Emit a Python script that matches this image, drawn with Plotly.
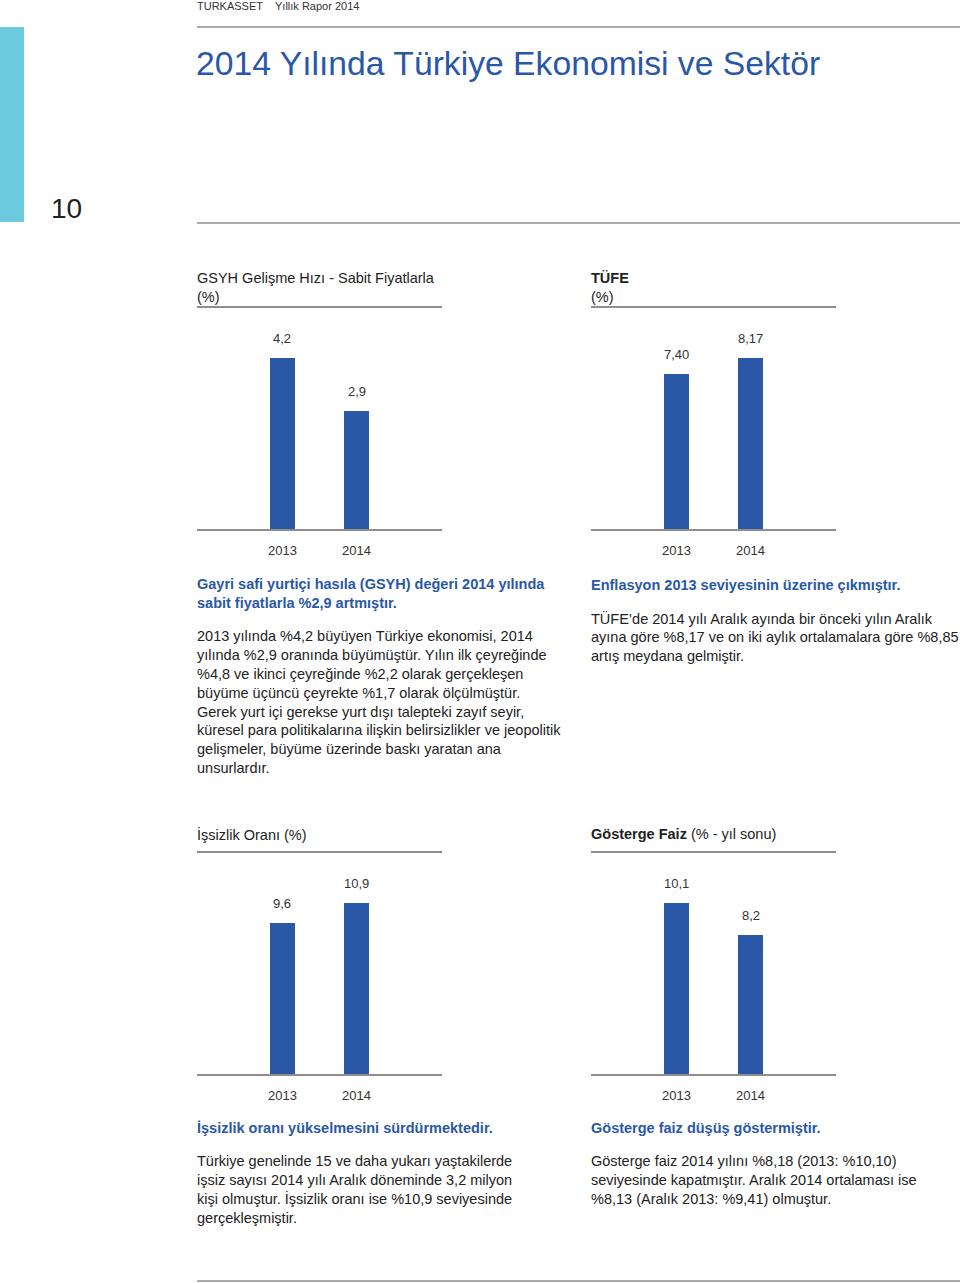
import plotly.graph_objects as go

# ---------------- data ----------------
years = ["2013", "2014"]
gsyh = [4.2, 2.9]
tufe = [7.40, 8.17]
issizlik = [9.6, 10.9]
faiz = [10.1, 8.2]
decimals = [1, 2, 1, 1]

W, H = 960, 1283
FONT = "Liberation Sans"
BLUE = "#2a58a6"
HEAD_BLUE = "#2a58a6"
GRAY = "#8e8e8e"
TXT = "#222222"


def px(x):
    return x / W


def py(y):
    return 1 - y / H


fig = go.Figure()

panels = [
    # (values, x0, x1, ytop, ybottom)
    (gsyh, 197, 442, 308, 529),
    (tufe, 591, 836, 308, 529),
    (issizlik, 197, 442, 853, 1074),
    (faiz, 591, 836, 853, 1074),
]

annotations = []
for i, (vals, x0, x1, yt, yb) in enumerate(panels):
    k = i + 1
    xa = "x" if k == 1 else f"x{k}"
    ya = "y" if k == 1 else f"y{k}"
    labels = [f"{v:.{decimals[i]}f}".replace(".", ",") for v in vals]
    fig.add_trace(go.Bar(x=years, y=vals, xaxis=xa, yaxis=ya,
                         marker=dict(color=BLUE, line=dict(width=0)),
                         width=0.34, showlegend=False, hoverinfo="skip"))
    for idx, (v, lab) in enumerate(zip(vals, labels)):
        annotations.append(dict(x=idx, y=v, xref=xa, yref=ya, text=lab,
                                showarrow=False, yanchor="bottom", yshift=10,
                                font=dict(family=FONT, size=13, color="#333333")))
    top = max(vals) * (yb - yt) / 171.0
    axname = "xaxis" if k == 1 else f"xaxis{k}"
    ayname = "yaxis" if k == 1 else f"yaxis{k}"
    fig.layout[axname] = dict(domain=[px(x0), px(x1)], anchor=ya,
                              type="category", range=[-1.155, 2.155],
                              showline=True, linecolor=GRAY, linewidth=1.5,
                              mirror=True, showgrid=False, zeroline=False,
                              ticks="outside", ticklen=9,
                              tickcolor="rgba(0,0,0,0)",
                              tickfont=dict(family=FONT, size=13, color="#333333"),
                              fixedrange=True)
    fig.layout[ayname] = dict(domain=[py(yb), py(yt)], anchor=xa,
                              range=[0, top], visible=False,
                              showgrid=False, zeroline=False, fixedrange=True)


def text(x, y, s, size=14.5, color=TXT, anchor="left"):
    annotations.append(dict(x=px(x - 2), y=py(y), xref="paper", yref="paper",
                            text=s, showarrow=False, xanchor=anchor,
                            yanchor="middle",
                            font=dict(family=FONT, size=size, color=color)))


# header
text(197, 6, "TURKASSET", size=11, color="#333333")
text(275, 6, "Yıllık Rapor 2014", size=11, color="#333333")
text(196, 63, "2014 Yılında Türkiye Ekonomisi ve Sektör", size=33.7, color=HEAD_BLUE)
text(51, 209, "10", size=28, color=TXT)

# chart titles
text(197, 278, "GSYH Gelişme Hızı - Sabit Fiyatlarla", size=14.5)
text(197, 297, "(%)", size=14.5)
text(591, 278, "<b>TÜFE</b>", size=14.5)
text(591, 297, "(%)", size=14.5)
text(197, 834, "İşsizlik Oranı (%)", size=14.5)
text(591, 834, "<b>Gösterge Faiz</b> (% - yıl sonu)", size=14.5)

STEP = 18.9

paras = [
    (197, 584, ["Gayri safi yurtiçi hasıla (GSYH) değeri 2014 yılında",
                "sabit fiyatlarla %2,9 artmıştır."], True),
    (197, 636, ["2013 yılında %4,2 büyüyen Türkiye ekonomisi, 2014",
                "yılında %2,9 oranında büyümüştür. Yılın ilk çeyreğinde",
                "%4,8 ve ikinci çeyreğinde %2,2 olarak gerçekleşen",
                "büyüme üçüncü çeyrekte %1,7 olarak ölçülmüştür.",
                "Gerek yurt içi gerekse yurt dışı talepteki zayıf seyir,",
                "küresel para politikalarına ilişkin belirsizlikler ve jeopolitik",
                "gelişmeler, büyüme üzerinde baskı yaratan ana",
                "unsurlardır."], False),
    (591, 585, ["Enflasyon 2013 seviyesinin üzerine çıkmıştır."], True),
    (591, 618, ["TÜFE’de 2014 yılı Aralık ayında bir önceki yılın Aralık",
                "ayına göre %8,17 ve on iki aylık ortalamalara göre %8,85",
                "artış meydana gelmiştir."], False),
    (197, 1128, ["İşsizlik oranı yükselmesini sürdürmektedir."], True),
    (197, 1161, ["Türkiye genelinde 15 ve daha yukarı yaştakilerde",
                 "işsiz sayısı 2014 yılı Aralık döneminde 3,2 milyon",
                 "kişi olmuştur. İşsizlik oranı ise %10,9 seviyesinde",
                 "gerçekleşmiştir."], False),
    (591, 1128, ["Gösterge faiz düşüş göstermiştir."], True),
    (591, 1161, ["Gösterge faiz 2014 yılını %8,18 (2013: %10,10)",
                 "seviyesinde kapatmıştır. Aralık 2014 ortalaması ise",
                 "%8,13 (Aralık 2013: %9,41) olmuştur."], False),
]
for x, y0, lines, bold in paras:
    for j, ln in enumerate(lines):
        s = f"<b>{ln}</b>" if bold else ln
        text(x, y0 + j * STEP, s, size=14.5, color=HEAD_BLUE if bold else TXT)

shapes = [
    dict(type="rect", xref="paper", yref="paper", x0=0, x1=px(24),
         y0=py(222), y1=py(27), fillcolor="#6ccadf", line=dict(width=0)),
    dict(type="line", xref="paper", yref="paper", x0=px(197), x1=1,
         y0=py(27), y1=py(27), line=dict(color=GRAY, width=1.5)),
    dict(type="line", xref="paper", yref="paper", x0=px(197), x1=1,
         y0=py(223), y1=py(223), line=dict(color=GRAY, width=1.5)),
    dict(type="line", xref="paper", yref="paper", x0=px(197), x1=1,
         y0=py(1281), y1=py(1281), line=dict(color=GRAY, width=1.5)),
]

fig.update_layout(width=W, height=H, margin=dict(l=0, r=0, t=0, b=0),
                  paper_bgcolor="white", plot_bgcolor="white",
                  annotations=annotations, shapes=shapes,
                  bargap=0, font=dict(family=FONT, color=TXT))

fig.write_html("out.html", config={"displayModeBar": False})
